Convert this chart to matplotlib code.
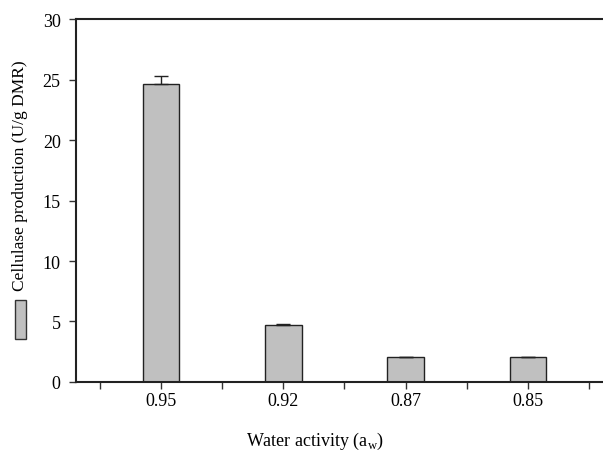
import matplotlib
matplotlib.use('Agg')
import matplotlib.pyplot as plt
from matplotlib.patches import Rectangle
import numpy as np

categories = ['0.95', '0.92', '0.87', '0.85']
production = [24.6, 4.69, 2.04, 2.05]
errors = [0.7, 0.12, 0.06, 0.05]

plt.rcParams['font.family'] = ['Liberation Serif', 'DejaVu Serif']

fig = plt.figure(figsize=(6.03, 4.60), dpi=100)
ax = fig.add_axes([0.126, 0.1674, 0.874, 0.7891])

x = np.arange(len(categories))
ax.bar(x, production, width=0.30, color='#c0c0c0', edgecolor='#222222',
       linewidth=1.0, zorder=2)
ax.errorbar(x, production, yerr=[np.zeros(len(errors)), errors], fmt='none',
            ecolor='#222222', elinewidth=1.0, capsize=5, capthick=1.0, zorder=3)

ax.set_xlim(-0.695, 3.614)
ax.set_ylim(0, 30)
ax.set_yticks(range(0, 31, 5))
ax.set_xticks(x)
ax.set_xticklabels(categories)
ax.set_xticks(np.arange(-0.5, 4.0, 1.0), minor=True)
ax.tick_params(axis='both', direction='out', length=5, width=1,
               labelsize=13, color='#333333')
ax.tick_params(axis='x', which='minor', direction='out', length=5, width=1,
               color='#333333')
ax.tick_params(axis='x', pad=2.5)
ax.tick_params(axis='y', pad=6)

for side in ['left', 'bottom', 'top']:
    ax.spines[side].set_linewidth(1.5)
    ax.spines[side].set_color('#222222')
ax.spines['right'].set_visible(False)

fig.text(315 / 603, 1 - 441 / 460, r'Water activity (a$_\mathregular{w}$)',
         ha='center', va='center', fontsize=13)
fig.text(20 / 603, 1 - 176 / 460, 'Cellulase production (U/g DMR)',
         ha='center', va='center', rotation=90, fontsize=12.5)
fig.patches.append(Rectangle((15 / 603, 1 - 340 / 460), 11 / 603, 39 / 460,
                             transform=fig.transFigure, facecolor='#c0c0c0',
                             edgecolor='#333333', linewidth=1.0))

fig.savefig('out.png', dpi=100)
